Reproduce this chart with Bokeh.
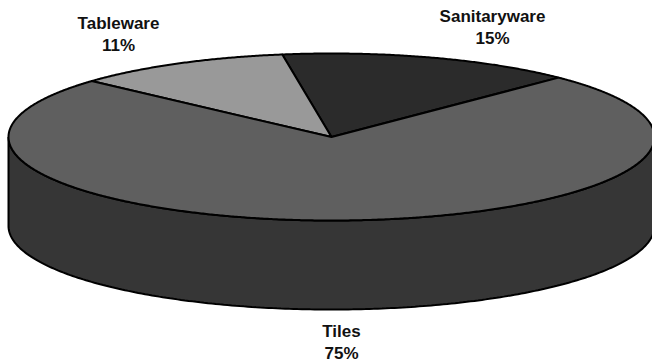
import numpy as np
from bokeh.core.properties import value
from bokeh.embed import file_html
from bokeh.models import Range1d
from bokeh.plotting import figure
from bokeh.resources import INLINE

categories = ["Sanitaryware", "Tableware", "Tiles"]
shares = [15, 11, 75]
slice_colors = ["#2b2b2b", "#999999", "#5f5f5f"]
wall_color = "#363636"
label_font = value("Liberation Sans")

# Tilted disc geometry, in page pixels
CX, CY, RX, RY, DEPTH = 331.0, 136.5, 323.0, 83.5, 89.0
START_DEG = 44.7  # clockwise from twelve o'clock; slices run counter-clockwise


def rim(deg, drop=0.0):
    a = np.radians(deg)
    return CX + RX * np.sin(a), CY - RY * np.cos(a) + drop


p = figure(
    width=652, height=363, output_backend="svg", toolbar_location=None,
    x_range=Range1d(0, 652), y_range=Range1d(363, 0),
    min_border=0, outline_line_color=None, background_fill_color="white",
)
p.axis.visible = False
p.grid.visible = False

# Cylinder wall: the front half of the rim, dropped by the disc depth
front = np.linspace(90, 270, 241)
top_x, top_y = rim(front)
low_x, low_y = rim(front, DEPTH)
p.patch(np.r_[top_x, low_x[::-1]], np.r_[top_y, low_y[::-1]],
        fill_color=wall_color, line_color="black", line_width=2)

# Top face, one wedge per category, sized by its share
total = sum(shares)
edge = START_DEG
for name, share, color in zip(categories, shares, slice_colors):
    sweep = share / total * 360
    arc = np.linspace(edge, edge - sweep, max(int(sweep * 3), 8))
    ax, ay = rim(arc)
    p.patch(np.r_[CX, ax], np.r_[CY, ay], fill_color=color,
            line_color="black", line_width=2, line_join="round", name=name)
    edge -= sweep

# Category captions
label_x = [492, 118, 341]
label_y = [16, 23, 331]
for name, share, x, y in zip(categories, shares, label_x, label_y):
    for text, yy in ((name, y), (f"{share}%", y + 22)):
        p.text([x], [yy], text=[text], text_font=label_font, text_font_size="17px",
               text_font_style="bold", text_color="#111111",
               text_align="center", text_baseline="middle")

open("out.html", "w").write(file_html(p, INLINE))
